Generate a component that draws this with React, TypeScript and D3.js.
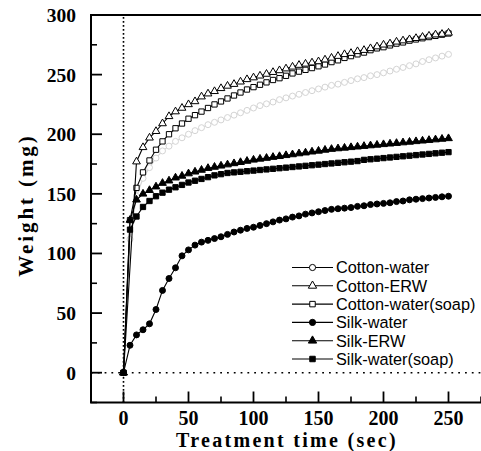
import React from "react";
import * as d3 from "d3";

const time = [0, 5, 10, 15, 20, 25, 30, 35, 40, 45, 50, 55, 60, 65, 70, 75, 80, 85, 90, 95, 100, 105, 110, 115, 120, 125, 130, 135, 140, 145, 150, 155, 160, 165, 170, 175, 180, 185, 190, 195, 200, 205, 210, 215, 220, 225, 230, 235, 240, 245, 250];

const cottonWater = [0, 112, 148, 163, 172, 180, 186, 190, 194, 197, 200, 203, 205.5, 208, 210, 212, 214, 216, 218, 220, 222, 224, 225.5, 227, 229, 230.5, 232, 233.5, 235, 236.5, 238, 239.5, 241, 242, 243.5, 245, 246.5, 247.5, 249, 250, 251.5, 253, 254.5, 256, 257.5, 259, 261, 262.5, 264, 265.5, 267];
const cottonERW = [0, null, 177, 189, 197, 202.5, 209, 215, 219, 222, 225, 227.5, 231.5, 234, 236, 238.5, 240.5, 242, 244, 246, 247.5, 249, 250.5, 252, 253.5, 255, 256.5, 258, 259, 260, 261, 262.5, 264, 265.5, 267, 268, 269.5, 270.5, 272, 273.5, 275, 276, 277.5, 278.5, 279.5, 280.5, 281.5, 282.5, 283.5, 284, 285];
const cottonSoap = [0, 128, 155, 168, 178, 187, 194, 200, 205, 209, 213, 216, 219, 222, 225, 227.5, 230, 232.5, 235, 237.5, 239.5, 241.5, 243.5, 245.5, 247, 249, 251, 252.5, 254, 255.5, 257, 258.5, 260.5, 262, 264, 265.5, 267, 268.5, 270.5, 272, 273, 274.5, 276, 277, 278.5, 279.5, 280.5, 281.5, 282.5, 283.5, 284.5];
const silkWater = [0, 23, 31.7, 36, 41, 53, 69, 79, 88, 98, 103, 107, 109.5, 111, 112.5, 114, 116, 118, 119.5, 121, 122, 123.5, 125, 126.5, 128, 129, 130.5, 131.5, 133, 134, 135, 136, 137, 137.5, 138, 138.5, 139.5, 140, 141, 141.5, 142, 142.5, 143.5, 144, 145, 145.5, 146, 146.5, 147, 147.5, 148];
const silkERW = [0, 128, 145, 150, 153, 156, 159, 161, 163.5, 165, 167, 168.5, 170, 171.5, 172.5, 173.5, 174.5, 175.5, 176.5, 177.5, 178.5, 179.3, 180, 180.8, 181.5, 182.3, 183, 183.8, 184.5, 185.3, 186, 186.8, 187.5, 188, 188.5, 189, 189.5, 190, 190.5, 191, 191.5, 192, 192.5, 193, 193.5, 194, 194.5, 195, 195.5, 196, 196.5];
const silkSoap = [0, 120, 131, 139, 144, 148, 151, 153.5, 155.5, 157.5, 159.5, 161, 162.5, 164, 165.5, 166.5, 167.5, 168, 168.5, 169, 169.5, 170, 170.5, 171, 171.5, 172, 172.5, 173, 173.5, 174, 174.5, 175, 175.5, 176, 176.5, 177, 177.5, 178.5, 179, 179.5, 180, 180.5, 181, 181.5, 182, 182.5, 183, 183.5, 184, 184.5, 185];

const seriesNames = ["Cotton-water", "Cotton-ERW", "Cotton-water(soap)", "Silk-water", "Silk-ERW", "Silk-water(soap)"];
const seriesValues = [cottonWater, cottonERW, cottonSoap, silkWater, silkERW, silkSoap];
const seriesShapes = ["circle", "triangle", "square", "circle", "triangle", "square"];
const seriesFilled = [false, false, false, true, true, true];
const seriesColor = ["#d4d4d4", "#000", "#000", "#000", "#000", "#000"];

const yTicks = [0, 50, 100, 150, 200, 250, 300];
const yMinor = [-25, 25, 75, 125, 175, 225, 275];
const xTicks = [0, 50, 100, 150, 200, 250];
const xMinor = [-25, 25, 75, 125, 175, 225, 275];

const W = 481;
const H = 451;

const x = d3.scaleLinear().domain([-25, 275]).range([91, 481]);
const y = d3.scaleLinear().domain([-25, 300]).range([402.5, 15]);

const symType: Record<string, d3.SymbolType> = {
  circle: d3.symbolCircle,
  triangle: d3.symbolTriangle,
  square: d3.symbolSquare,
};
const symSize: Record<string, number> = { circle: 28, triangle: 26, square: 28 };

function marker(shape: string, size?: number) {
  return d3.symbol().type(symType[shape]).size(size ?? symSize[shape])()!;
}

const serif = "'Liberation Serif', 'Times New Roman', serif";
const sans = "'Liberation Sans', Arial, sans-serif";

export default function App() {
  const line = d3
    .line<[number, number]>()
    .x((d) => x(d[0]))
    .y((d) => y(d[1]));

  const order = [0, 2, 1, 5, 4, 3];

  return (
    <svg width={W} height={H} style={{ position: "absolute", left: 0, top: 0, background: "#fff" }}>
      <rect x={0} y={0} width={W} height={H} fill="#fff" />
      {/* dotted reference lines */}
      <line x1={x(0)} x2={x(0)} y1={y(300) + 2} y2={y(-25)} stroke="#000" strokeWidth={1.6} strokeDasharray="1.8,2.2" />
      <line x1={x(-25)} x2={W} y1={y(0)} y2={y(0)} stroke="#000" strokeWidth={1.6} strokeDasharray="1.8,5" />

      {/* series */}
      {order.map((i) => {
        const pts: [number, number][] = [];
        seriesValues[i].forEach((v, k) => {
          if (v !== null && v !== undefined) pts.push([time[k], v as number]);
        });
        const col = seriesColor[i];
        const path = marker(seriesShapes[i]);
        return (
          <g key={i}>
            <path d={line(pts)!} fill="none" stroke={col} strokeWidth={1.1} />
            {pts.map((p, k) => (
              <path
                key={k}
                d={path}
                transform={`translate(${x(p[0])},${y(p[1])})`}
                fill={seriesFilled[i] ? col : "#fff"}
                stroke={col}
                strokeWidth={1}
              />
            ))}
          </g>
        );
      })}

      {/* frame */}
      <rect x={x(-25)} y={y(300)} width={W + 10 - x(-25)} height={y(-25) - y(300)} fill="none" stroke="#000" strokeWidth={2} />

      {/* y ticks */}
      {yTicks.map((t) => (
        <g key={"yt" + t}>
          <line x1={x(-25)} x2={x(-25) + 11} y1={y(t)} y2={y(t)} stroke="#000" strokeWidth={1.8} />
          <text x={76} y={y(t)} dy="0.36em" textAnchor="end" fontFamily={serif} fontWeight="bold" fontSize={19.5}>
            {t}
          </text>
        </g>
      ))}
      {yMinor.map((t) => (
        <line key={"ym" + t} x1={x(-25)} x2={x(-25) + 6} y1={y(t)} y2={y(t)} stroke="#000" strokeWidth={1.6} />
      ))}

      {/* x ticks */}
      {xTicks.map((t) => (
        <g key={"xt" + t}>
          <line x1={x(t)} x2={x(t)} y1={y(-25)} y2={y(-25) - 11} stroke="#000" strokeWidth={1.8} />
          <text x={x(t)} y={425} textAnchor="middle" fontFamily={serif} fontWeight="bold" fontSize={20}>
            {t}
          </text>
        </g>
      ))}
      {xMinor.map((t) => (
        <line key={"xm" + t} x1={x(t)} x2={x(t)} y1={y(-25)} y2={y(-25) - 6} stroke="#000" strokeWidth={1.6} />
      ))}

      {/* axis titles */}
      <text
        x={287}
        y={447}
        textAnchor="middle"
        fontFamily={serif}
        fontWeight="bold"
        fontSize={20}
        letterSpacing={2.3}
      >
        Treatment time (sec)
      </text>
      <text
        transform={`translate(33,${205}) rotate(-90)`}
        textAnchor="middle"
        fontFamily={serif}
        fontWeight="bold"
        fontSize={21}
        letterSpacing={2.9}
      >
        Weight (mg)
      </text>

      {/* legend */}
      {seriesNames.map((name, i) => {
        const ly = 267.5 + i * 18.3;
        return (
          <g key={"lg" + i}>
            <line x1={292} x2={333} y1={ly} y2={ly} stroke="#000" strokeWidth={1.1} />
            <path
              d={marker(seriesShapes[i], 30)}
              transform={`translate(312.5,${ly})`}
              fill={seriesFilled[i] ? "#000" : "#fff"}
              stroke="#000"
              strokeWidth={1}
            />
            <text x={336} y={ly} dy="0.36em" fontFamily={sans} fontSize={16.3}>
              {name}
            </text>
          </g>
        );
      })}
    </svg>
  );
}
